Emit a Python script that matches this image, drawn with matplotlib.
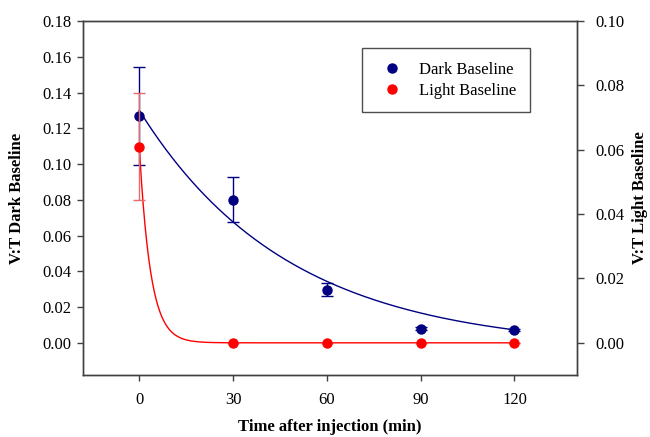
import numpy as np
import matplotlib
matplotlib.use("Agg")
import matplotlib.pyplot as plt
from matplotlib.lines import Line2D

plt.rcParams["font.family"] = ["Liberation Serif", "DejaVu Serif"]

# sampling times (min)
TIME = [0, 30, 60, 90, 120]

# V:T ratios, mean and SEM
DARK_MEAN = [0.1268, 0.0801, 0.0297, 0.0080, 0.0074]
DARK_ERR = [0.0276, 0.0124, 0.0037, 0.0010, 0.0006]
LIGHT_MEAN = [0.0610, 0.0, 0.0, 0.0, 0.0]
LIGHT_ERR = [0.0167, 0.0, 0.0, 0.0, 0.0]

# single exponential decay fits: y = a * exp(-k t) + c
DARK_FIT = dict(a=0.1335, k=0.0210, c=-0.0035)
LIGHT_FIT = dict(a=0.0610, k=0.28, c=0.0)

DARK_COLOR = "#000080"
LIGHT_COLOR = "#ff0000"


def decay(t, a, k, c):
    return a * np.exp(-k * t) + c


fig = plt.figure(figsize=(6.5, 4.37), dpi=100)
ax = fig.add_axes([83 / 650, 1 - 375 / 437, 494 / 650, 354 / 437])
ax2 = ax.twinx()

tt = np.linspace(0, 120, 400)

# dark baseline on left axis
ax.plot(tt, decay(tt, **DARK_FIT), color=DARK_COLOR, lw=1.0, zorder=2)
ax.errorbar(TIME, DARK_MEAN, yerr=DARK_ERR, fmt="o", color=DARK_COLOR,
            ms=6.5, capsize=4, elinewidth=1.0, capthick=1.0, zorder=3)

# light baseline on right axis
ax2.plot(tt, decay(tt, **LIGHT_FIT), color=LIGHT_COLOR, lw=1.0, zorder=2)
ax2.errorbar(TIME, LIGHT_MEAN, yerr=LIGHT_ERR, fmt="o", color=LIGHT_COLOR,
             ecolor="#e86a6a", ms=6.5, capsize=4, elinewidth=1.0, capthick=1.0, zorder=3)

ax.set_xlim(-18, 140)
ax.set_ylim(-0.018, 0.18)
ax2.set_ylim(-0.01, 0.10)

ax.set_xticks([0, 30, 60, 90, 120])
ax.set_yticks(np.arange(0, 0.181, 0.02))
ax.set_yticklabels([f"{v:.2f}" for v in np.arange(0, 0.181, 0.02)])
ax2.set_yticks(np.arange(0, 0.101, 0.02))
ax2.set_yticklabels([f"{v:.2f}" for v in np.arange(0, 0.101, 0.02)])

for a in (ax, ax2):
    for s in a.spines.values():
        s.set_color("#404040")
        s.set_linewidth(1.0)
ax.tick_params(axis="y", direction="out", length=4.5, width=1, color="#404040",
               labelsize=12, pad=4)
ax.tick_params(axis="x", direction="out", length=4.5, width=1, color="#404040",
               labelsize=12, pad=8)
ax2.tick_params(axis="y", direction="out", length=5, width=1, color="#404040",
                labelsize=12, pad=8)

ax.set_ylabel("V:T Dark Baseline", fontsize=12, fontweight="bold")
ax.yaxis.set_label_coords(-0.117, 0.5)
ax2.set_ylabel("V:T Light Baseline", fontsize=12, fontweight="bold", rotation=90)
ax2.yaxis.set_label_coords(1.112, 0.5)
ax.set_xlabel("Time after injection (min)", fontsize=12, fontweight="bold", va="center")
ax.xaxis.set_label_coords(0.5, -0.146)

handles = [
    Line2D([], [], marker="o", ls="none", color=DARK_COLOR, ms=6.5, label="Dark Baseline"),
    Line2D([], [], marker="o", ls="none", color=LIGHT_COLOR, ms=6.5, label="Light Baseline"),
]
leg = ax2.legend(handles=handles, loc="upper left", bbox_to_anchor=(0.564, 0.923),
                 fontsize=12, frameon=True, fancybox=False, edgecolor="#202020",
                 borderpad=0.8, labelspacing=0.3, handlelength=2.0, handletextpad=0.66,
                 borderaxespad=0)
leg.get_frame().set_linewidth(1.0)

fig.savefig("out.png", dpi=100)
